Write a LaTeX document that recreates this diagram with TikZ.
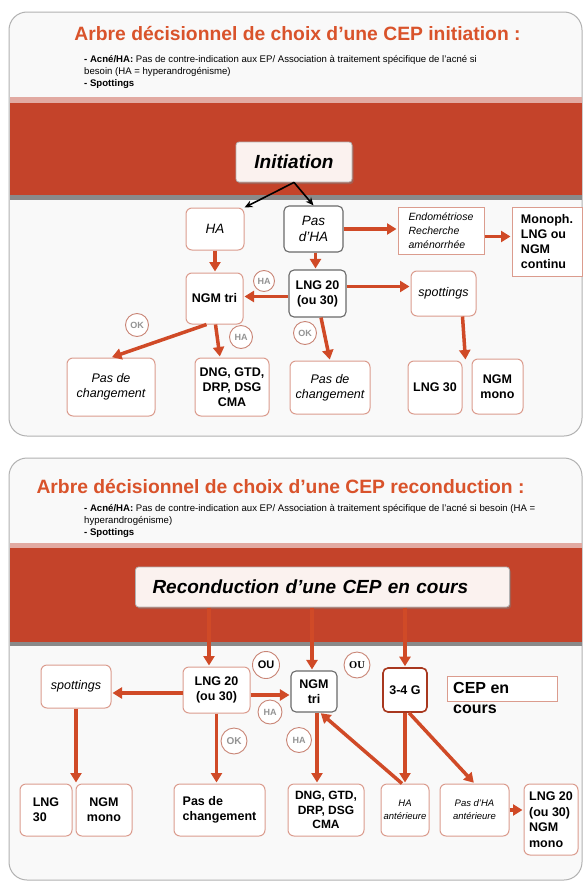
\documentclass[tikz,border=0pt]{standalone}
\usepackage{fontspec}
\setmainfont{Liberation Sans}
\newfontfamily\serifou{Liberation Serif}
\usetikzlibrary{arrows.meta,shadows,calc}
\definecolor{band}{HTML}{C4432A}
\definecolor{arr}{HTML}{D04A27}
\definecolor{ttl}{HTML}{D9532B}
\definecolor{lbord}{HTML}{DB9C8E}
\definecolor{cbord}{HTML}{C98576}
\definecolor{pinkband}{HTML}{E2AAA2}
\definecolor{grayband}{HTML}{8A8A8A}
\definecolor{dbord}{HTML}{6A6A6A}
\definecolor{gdark}{HTML}{A8381F}
\definecolor{initfill}{HTML}{FBF2EF}
\definecolor{panelfill}{HTML}{F9F9F9}
\newcommand{\fsz}[2]{\fontsize{#1pt}{#2pt}\selectfont}
\begin{document}
\begin{tikzpicture}[x=1pt,y=-1pt,
  panel/.style={draw=gray!60, line width=1pt, fill=panelfill, rounded corners=18pt},
  ttlstyle/.style={text=ttl, font=\fsz{19.3}{22}\bfseries, inner sep=0pt},
  bul/.style={font=\fsz{9.6}{12}, align=left, inner sep=0pt, anchor=north west},
  initbox/.style={draw=gray!60, line width=0.8pt, fill=initfill, rounded corners=3pt,
     drop shadow={shadow xshift=1.5pt, shadow yshift=-2pt, opacity=0.45},
     font=\fsz{19}{22}\bfseries\itshape, inner sep=0pt},
  lbox/.style={draw=lbord, line width=1pt, fill=white, rounded corners=6pt, inner sep=0pt, align=center},
  dbox/.style={draw=dbord, line width=1.1pt, fill=white, rounded corners=5pt, inner sep=0pt, align=center},
  sbox/.style={draw=lbord, line width=1pt, fill=white, inner sep=0pt, align=center},
  circ/.style={circle, draw=cbord, line width=0.9pt, fill=white, inner sep=0pt,
     minimum size=#1, font=\fsz{9}{10}\bfseries, text=gray!85},
  oarr/.style={draw=arr, line width=3.5pt, -{Triangle[length=9.5pt,width=11pt]}, shorten >=1pt},
  barr/.style={draw=black, line width=1.6pt, -{Stealth[length=8pt,width=7pt]}},
  bt/.style={font=\fsz{12.5}{15}\bfseries},
  it/.style={font=\fsz{12.5}{15}\itshape}
]
\useasboundingbox (0,0) rectangle (588,894);
\fill[white] (0,0) rectangle (588,894);

% ================= TOP PANEL =================
\path[panel] (9,12) rectangle (582,436);
\fill[pinkband] (9.5,97) rectangle (581.5,103);
\fill[band] (9.5,103) rectangle (581.5,195);
\fill[grayband] (9.5,195) rectangle (581.5,200);

\node[ttlstyle] (t1) at (297.5,34) {Arbre décisionnel de choix d’une CEP initiation :};
\node[bul] (b1) at (84,55) {\textbf{- Acné/HA:} Pas de contre-indication aux EP/ Association à traitement spécifique de l'acné si\\besoin (HA = hyperandrogénisme)\\\textbf{- Spottings}};

\node[initbox, minimum width=116pt, minimum height=40pt] (init) at (294,162) {Initiation};

\node[lbox, minimum width=58pt, minimum height=42pt, font=\fsz{13.5}{16}\itshape] (ha) at (215,229) {HA};
\node[dbox, minimum width=59pt, minimum height=46pt, font=\fsz{13.5}{16}\itshape] (pasha) at (313.5,229) {Pas\\d’HA};
\node[sbox, minimum width=86pt, minimum height=47pt, font=\fsz{10.5}{14}\itshape, align=left] (endo) at (441,230.5) {Endométriose\\Recherche\\aménorrhée};
\node[sbox, minimum width=70pt, minimum height=69pt, font=\fsz{12.5}{15}\bfseries, align=left] (mono) at (547,241.5) {Monoph.\\LNG ou\\NGM\\continu};

\node[lbox, minimum width=57pt, minimum height=51pt, bt] (ngmtri) at (214.5,298.5) {NGM tri};
\node[dbox, minimum width=57pt, minimum height=47pt, bt] (lng) at (317.5,293.5) {LNG 20\\(ou 30)};
\node[lbox, minimum width=65pt, minimum height=45pt, it] (spot) at (443.5,293.5) {spottings};

\node[lbox, minimum width=88pt, minimum height=58pt, it] (pdc1) at (111,387) {Pas de\\changement};
\node[lbox, minimum width=74pt, minimum height=58pt, bt] (dng) at (232,387) {DNG, GTD,\\DRP, DSG\\CMA};
\node[lbox, minimum width=80pt, minimum height=53pt, it] (pdc2) at (330,387.5) {Pas de\\changement};
\node[lbox, minimum width=54pt, minimum height=53pt, bt] (lng30) at (435,387.5) {LNG 30};
\node[lbox, minimum width=51pt, minimum height=55pt, bt] (ngmmono) at (497.5,386.5) {NGM\\mono};

\draw[barr] (init.south) -- (ha.north east);
\draw[barr] (init.south) -- (pasha.north);
\draw[oarr] (pasha.east) -- (pasha.east -| endo.west);
\draw[oarr] ([yshift=-6pt]endo.east) -- ([yshift=-6pt]endo.east -| mono.west);
\draw[oarr] (ha.south) -- (ha.south |- ngmtri.north);
\draw[oarr] ([xshift=2pt]pasha.south) -- ([xshift=2pt]pasha.south |- lng.north);
\draw[oarr] ([yshift=-3pt]lng.west) -- ([yshift=-3pt]lng.west -| ngmtri.east);
\draw[oarr] ([yshift=7pt]lng.east) -- ([yshift=7pt]lng.east -| spot.west);
\draw[oarr] ([xshift=-8pt]ngmtri.south) -- (pdc1.north);
\draw[oarr] ([xshift=1pt]ngmtri.south) -- ([xshift=-12pt]dng.north);
\draw[oarr] ([xshift=3.5pt]lng.south) -- (pdc2.north);
\draw[oarr] (spot.south -| lng30.north east) -- ([xshift=3pt]lng30.north east);

\node[circ=21pt] (cha1) at (264,281) {HA};
\node[circ=23pt] (cha2) at (241,337) {HA};
\node[circ=23pt] (cok1) at (137,325) {OK};
\node[circ=23pt] (cok2) at (305,333) {OK};

% ================= BOTTOM PANEL =================
\path[panel] (9,458) rectangle (582,880);
\fill[pinkband] (9.5,543) rectangle (581.5,548);
\fill[band] (9.5,548) rectangle (581.5,642);
\fill[grayband] (9.5,642) rectangle (581.5,646);

\node[ttlstyle] (t2) at (280.5,487) {Arbre décisionnel de choix d’une CEP reconduction :};
\node[bul] (b2) at (84,504) {\textbf{- Acné/HA:} Pas de contre-indication aux EP/ Association à traitement spécifique de l'acné si besoin (HA =\\hyperandrogénisme)\\\textbf{- Spottings}};

\node[initbox, minimum width=373pt, minimum height=40pt, text width=340pt, align=left, inner xsep=17pt] (recon) at (322.5,587) {Reconduction d’une CEP en cours};

\node[lbox, minimum width=67pt, minimum height=46pt, bt] (lng2) at (216.5,690) {LNG 20\\(ou 30)};
\node[dbox, minimum width=46pt, minimum height=41pt, bt] (ngm2) at (314,691.5) {NGM\\tri};
\node[draw=gdark, line width=1.6pt, fill=white, rounded corners=5pt, inner sep=0pt, minimum width=44pt, minimum height=44pt, bt] (g34) at (405,690) {3-4 G};
\node[sbox, minimum width=110pt, minimum height=25pt] (cepbox) at (502,688.5) {};
\node[anchor=north west, font=\fsz{16}{20}\bfseries, align=left, inner sep=0pt] (ceptext) at (453,682) {CEP en\\cours};
\node[lbox, minimum width=70pt, minimum height=43pt, it] (spot2) at (76,686.5) {spottings};

\node[lbox, minimum width=52pt, minimum height=52pt, bt, align=left] (lng30b) at (46,810) {LNG\\30};
\node[lbox, minimum width=56pt, minimum height=52pt, bt] (ngmmono2) at (104,810) {NGM\\mono};
\node[lbox, minimum width=91pt, minimum height=52pt, bt, align=left] (pdc3) at (219.5,810) {Pas de\\changement};
\node[lbox, minimum width=76pt, minimum height=52pt, font=\fsz{12}{14.5}\bfseries] (dng2) at (326,810) {DNG, GTD,\\DRP, DSG\\CMA};
\node[lbox, minimum width=48pt, minimum height=52pt, font=\fsz{9.5}{13}\itshape] (haant) at (405,810) {HA\\antérieure};
\node[lbox, minimum width=69pt, minimum height=52pt, font=\fsz{9.5}{13}\itshape] (pashaant) at (474.5,810) {Pas d’HA\\antérieure};
\node[lbox, minimum width=54pt, minimum height=71pt, font=\fsz{12.5}{15.5}\bfseries, align=left] (lngb) at (551,819.5) {LNG 20\\(ou 30)\\NGM\\mono};

\coordinate (r1) at (209,607.5);
\coordinate (r2) at (312,607.5);
\coordinate (r3) at (405,607.5);
\draw[oarr] (r1) -- (r1 |- lng2.north);
\draw[oarr] (r2) -- (r2 |- ngm2.north);
\draw[oarr] (r3) -- (r3 |- g34.north);
\draw[oarr] ([yshift=-3pt]lng2.west) -- ([yshift=-3pt]lng2.west -| spot2.east);
\draw[oarr] ([yshift=-5pt]lng2.east) -- ([yshift=-5pt]lng2.east -| ngm2.west);
\draw[oarr] (spot2.south) -- (spot2.south |- lng30b.north);
\draw[oarr] (lng2.south) -- (lng2.south |- pdc3.north);
\draw[oarr] ([xshift=3pt]ngm2.south) -- ([xshift=3pt]ngm2.south |- dng2.north);
\draw[oarr] (g34.south) -- (haant.north);
\draw[oarr] ([xshift=4pt]g34.south) -- (pashaant.north);
\draw[oarr] ([xshift=-3pt]haant.north) -- ([xshift=6pt]ngm2.south);
\draw[oarr] (pashaant.east) -- (pashaant.east -| lngb.west);

\node[circ=27pt, font=\fsz{11}{12}\bfseries, text=black] (ou1) at (266,665) {OU};
\node[circ=26pt, font=\fsz{10.5}{12}\serifou\bfseries, text=black] (ou2) at (357,665) {OU};
\node[circ=24pt] (cha3) at (270,712) {HA};
\node[circ=26pt, font=\fsz{10}{11}\bfseries] (cok3) at (234,741) {OK};
\node[circ=25pt] (cha4) at (299,740) {HA};
\end{tikzpicture}
\end{document}
